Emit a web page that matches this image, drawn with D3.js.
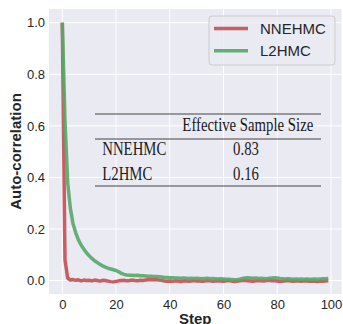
<!DOCTYPE html>
<html>
<head>
<meta charset="utf-8">
<script src="https://cdn.jsdelivr.net/npm/d3@7"></script>
<style>
  body { margin: 0; background: #fff; }
  svg { display: block; }
</style>
</head>
<body>
<script>
// autocorrelation per step
const steps = d3.range(0, 100);
const nnehmc = [1.0, 0.08, 0.01, 0.002, 0.004, 0.001, 0.003, -0.001, 0.002, 0.0,
  0.001, -0.001, 0.002, 0.0, -0.002, 0.001, 0.0, -0.002, -0.004, -0.005,
  -0.003, -0.001, 0.0, 0.001, -0.001, 0.0, 0.002, 0.0, -0.001, 0.001,
  0.0, 0.002, 0.003, 0.004, 0.003, 0.004, 0.002, 0.001, -0.002, -0.003,
  -0.002, -0.003, -0.001, -0.002, -0.004, -0.002, -0.001, -0.003, -0.002, 0.0,
  -0.002, -0.001, -0.003, -0.002, 0.0, -0.001, -0.003, -0.002, -0.001, -0.002,
  -0.003, -0.001, 0.0, -0.002, -0.004, -0.003, -0.001, 0.0, 0.001, -0.001,
  -0.002, -0.003, -0.001, 0.0, -0.001, -0.002, 0.0, 0.001, -0.001, 0.0,
  -0.002, -0.004, -0.003, -0.001, 0.0, -0.002, -0.003, -0.001, -0.002, -0.003,
  -0.001, -0.002, -0.003, -0.002, -0.003, -0.004, -0.002, -0.003, -0.002, -0.001];
const l2hmc = [1.0, 0.62, 0.38, 0.28, 0.22, 0.185, 0.158, 0.138, 0.122, 0.108,
  0.096, 0.086, 0.077, 0.07, 0.063, 0.057, 0.052, 0.048, 0.045, 0.042,
  0.039, 0.034, 0.028, 0.024, 0.022, 0.021, 0.021, 0.02, 0.021, 0.019,
  0.019, 0.018, 0.017, 0.017, 0.016, 0.016, 0.015, 0.014, 0.012, 0.012,
  0.011, 0.011, 0.01, 0.01, 0.009, 0.01, 0.009, 0.008, 0.009, 0.008,
  0.009, 0.008, 0.007, 0.008, 0.009, 0.007, 0.008, 0.007, 0.006, 0.007,
  0.006, 0.005, 0.005, 0.004, 0.003, 0.003, 0.005, 0.008, 0.01, 0.011,
  0.01, 0.009, 0.01, 0.008, 0.009, 0.008, 0.007, 0.009, 0.01, 0.011,
  0.01, 0.008, 0.007, 0.006, 0.007, 0.006, 0.005, 0.006, 0.005, 0.006,
  0.005, 0.006, 0.005, 0.005, 0.006, 0.005, 0.006, 0.007, 0.007, 0.008];

const seriesNames = ["NNEHMC", "L2HMC"];
const seriesColors = ["#C44E52", "#55A868"];
const xTicks = [0, 20, 40, 60, 80, 100];
const yTicks = [0.0, 0.2, 0.4, 0.6, 0.8, 1.0];

// inset table
const tableHeader = "Effective Sample Size";
const tableRows = ["NNEHMC", "L2HMC"];
const tableValues = ["0.83", "0.16"];

const width = 343, height = 324;
const margin = { top: 9, right: 1.4, bottom: 30, left: 49 };

const svg = d3.select("body").append("svg")
  .attr("width", width)
  .attr("height", height);

const x = d3.scaleLinear().domain([-4.95, 103.95])
  .range([margin.left, width - margin.right]);
const y = d3.scaleLinear().domain([-0.052, 1.053])
  .range([height - margin.bottom, margin.top]);

// background + grid
svg.append("rect")
  .attr("x", margin.left).attr("y", margin.top)
  .attr("width", x.range()[1] - x.range()[0])
  .attr("height", y.range()[0] - y.range()[1])
  .attr("fill", "#EAEAF2");

svg.append("g").selectAll("line").data(xTicks).join("line")
  .attr("x1", d => x(d)).attr("x2", d => x(d))
  .attr("y1", y.range()[0]).attr("y2", y.range()[1])
  .attr("stroke", "#fff").attr("stroke-width", 1);
svg.append("g").selectAll("line").data(yTicks).join("line")
  .attr("y1", d => y(d)).attr("y2", d => y(d))
  .attr("x1", x.range()[0]).attr("x2", x.range()[1])
  .attr("stroke", "#fff").attr("stroke-width", 1);

// axes (labels only, seaborn style)
const xAxis = svg.append("g")
  .attr("transform", `translate(0,${y.range()[0]})`)
  .call(d3.axisBottom(x).tickValues(xTicks).tickSize(0).tickPadding(0).tickFormat(d3.format("d")));
xAxis.select(".domain").remove();
xAxis.selectAll("text")
  .attr("y", 15)
  .attr("dy", null)
  .attr("fill", "#262626")
  .style("font", "13px 'Liberation Sans', Arial, sans-serif");

const yAxis = svg.append("g")
  .attr("transform", `translate(${x.range()[0]},0)`)
  .call(d3.axisLeft(y).tickValues(yTicks).tickSize(0).tickPadding(4).tickFormat(d3.format(".1f")));
yAxis.select(".domain").remove();
yAxis.selectAll("text")
  .attr("fill", "#262626")
  .style("font", "13px 'Liberation Sans', Arial, sans-serif");

svg.append("text")
  .attr("transform", `translate(21,${(y.range()[0] + y.range()[1]) / 2}) rotate(-90)`)
  .attr("text-anchor", "middle")
  .attr("fill", "#262626")
  .style("font", "bold 15px 'Liberation Sans', Arial, sans-serif")
  .text("Auto-correlation");

svg.append("text")
  .attr("x", (x.range()[0] + x.range()[1]) / 2)
  .attr("y", 324)
  .attr("text-anchor", "middle")
  .attr("fill", "#262626")
  .style("font", "bold 15px 'Liberation Sans', Arial, sans-serif")
  .text("Step");

// lines
const line = d3.line().x((d, i) => x(steps[i])).y(d => y(d));
[nnehmc, l2hmc].forEach((vals, k) => {
  svg.append("path")
    .datum(vals)
    .attr("fill", "none")
    .attr("stroke", seriesColors[k])
    .attr("stroke-width", 3.5)
    .attr("stroke-opacity", 0.9)
    .attr("stroke-linejoin", "round")
    .attr("d", line);
});

// inset table
const tbl = svg.append("g")
  .attr("fill", "#1a1a1a")
  .style("font", "18px 'Liberation Serif', 'Times New Roman', serif");
[114, 139, 186].forEach(yy => {
  tbl.append("line")
    .attr("x1", 95).attr("x2", 321)
    .attr("y1", yy).attr("y2", yy)
    .attr("stroke", "#444").attr("stroke-width", 1);
});
const squeeze = 0.82;
const fit = sel => sel.each(function () {
  const w = this.getComputedTextLength();
  d3.select(this).attr("textLength", w * squeeze).attr("lengthAdjust", "spacingAndGlyphs");
});
tbl.append("text").attr("x", 247.8).attr("y", 131).attr("text-anchor", "middle")
  .text(tableHeader).call(fit);
tableRows.forEach((r, i) => {
  tbl.append("text").attr("x", 102.3).attr("y", 155 + i * 25)
    .text(r).call(fit);
  tbl.append("text").attr("x", 246).attr("y", 155 + i * 25).attr("text-anchor", "middle")
    .text(tableValues[i]).call(fit);
});

// legend
const legend = svg.append("g");
legend.append("rect")
  .attr("x", 209).attr("y", 16)
  .attr("width", 126).attr("height", 49)
  .attr("rx", 3)
  .attr("fill", "#EAEAF2").attr("fill-opacity", 0.8)
  .attr("stroke", "#cccccc").attr("stroke-width", 1);
seriesNames.forEach((name, i) => {
  const yy = 28.5 + i * 22.3;
  legend.append("line")
    .attr("x1", 214).attr("x2", 248)
    .attr("y1", yy).attr("y2", yy)
    .attr("stroke", seriesColors[i])
    .attr("stroke-width", 3.5)
    .attr("stroke-opacity", 0.9);
  legend.append("text")
    .attr("x", 260).attr("y", yy + 5.5)
    .attr("fill", "#262626")
    .style("font", "15px 'Liberation Sans', Arial, sans-serif")
    .text(name);
});
</script>
</body>
</html>
